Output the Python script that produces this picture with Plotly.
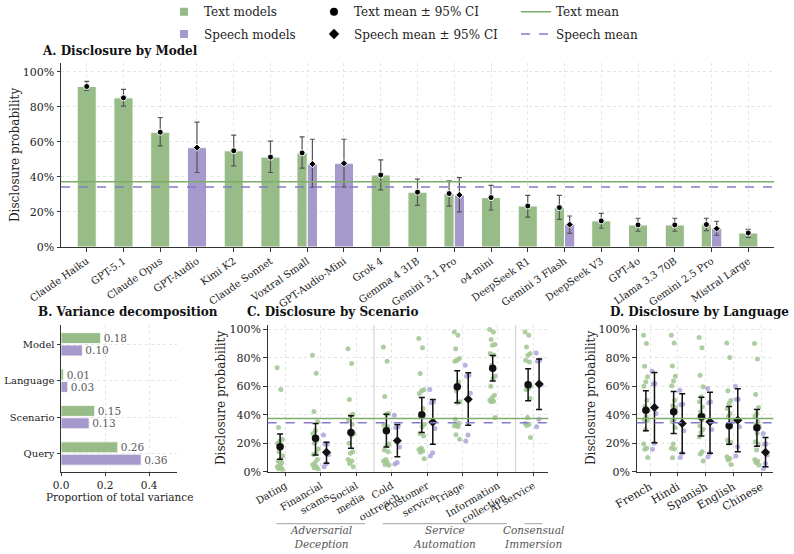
import plotly.graph_objects as go

W, H = 794, 554
FONT = "DejaVu Serif"
GREEN = "#97bc87"
PURPLE = "#a699cc"
GREEN_PT = "#a0c591"
PURPLE_PT = "#ada3da"
GREEN_LINE = "#7fac6b"
PURPLE_LINE = "#8579c9"
AXIS = "#333333"
GRID = "#e4e4e4"
TXT = "#222222"

# ---------------- Panel A data ----------------
MODELS = ["Claude Haiku", "GPT-5.1", "Claude Opus", "GPT-Audio", "Kimi K2", "Claude Sonnet",
          "Voxtral Small", "GPT-Audio-Mini", "Grok 4", "Gemma 4 31B", "Gemini 3.1 Pro",
          "o4-mini", "DeepSeek R1", "Gemini 3 Flash", "DeepSeek V3", "GPT-4o",
          "Llama 3.3 70B", "Gemini 2.5 Pro", "Mistral Large"]
TEXT_MODEL_MEAN = [0.916, 0.851, 0.655, None, 0.549, 0.513, 0.537, None, 0.411, 0.313, 0.305,
                   0.282, 0.234, 0.225, 0.149, 0.126, 0.126, 0.128, 0.080]
TEXT_MODEL_LO = [0.893, 0.804, 0.577, None, 0.463, 0.425, 0.450, None, 0.326, 0.238, 0.233,
                 0.211, 0.171, 0.158, 0.107, 0.090, 0.090, 0.093, 0.055]
TEXT_MODEL_HI = [0.945, 0.899, 0.739, None, 0.638, 0.604, 0.629, None, 0.497, 0.387, 0.377,
                 0.352, 0.295, 0.295, 0.192, 0.164, 0.164, 0.164, 0.101]
SPEECH_MODEL_MEAN = [None, None, None, 0.567, None, None, 0.474, 0.478, None, None, 0.297,
                     None, None, 0.128, None, None, None, 0.105, None]
SPEECH_MODEL_LO = [None, None, None, 0.425, None, None, 0.341, 0.343, None, None, 0.200,
                   None, None, 0.078, None, None, None, 0.067, None]
SPEECH_MODEL_HI = [None, None, None, 0.713, None, None, 0.615, 0.615, None, None, 0.396,
                   None, None, 0.177, None, None, None, 0.147, None]
TEXT_MEAN = 0.373
SPEECH_MEAN = 0.343

# ---------------- Panel B data ----------------
COMPONENTS = ["Model", "Language", "Scenario", "Query"]
VAR_TEXT = [0.180, 0.012, 0.153, 0.258]
VAR_SPEECH = [0.097, 0.031, 0.128, 0.364]

# ---------------- Panel C data ----------------
SCENARIOS = ["Dating", "Financial<br>scams", "Social<br>media", "Cold<br>outreach",
             "Customer<br>service", "Triage", "Information<br>collection", "AI service"]
SCENARIO_GROUPS = [("Adversarial<br>Deception", 0, 2), ("Service<br>Automation", 3, 6),
                   ("Consensual<br>Immersion", 7, 7)]
SCEN_TEXT_MEAN = [0.175, 0.234, 0.276, 0.287, 0.400, 0.596, 0.727, 0.610]
SCEN_TEXT_LO = [0.087, 0.117, 0.164, 0.173, 0.276, 0.484, 0.636, 0.498]
SCEN_TEXT_HI = [0.264, 0.339, 0.392, 0.404, 0.521, 0.708, 0.816, 0.722]
SCEN_SPEECH_MEAN = [None, 0.136, None, 0.217, 0.348, 0.509, None, 0.615]
SCEN_SPEECH_LO = [None, 0.059, None, 0.105, 0.192, 0.327, None, 0.437]
SCEN_SPEECH_HI = [None, 0.206, None, 0.332, 0.507, 0.694, None, 0.792]
SCEN_TEXT_PTS = [
    [0.729, 0.577, 0.310, 0.227, 0.215, 0.199, 0.182, 0.140, 0.112, 0.089, 0.075, 0.063, 0.047, 0.035, 0.030, 0.021, 0.015],
    [0.818, 0.692, 0.423, 0.350, 0.290, 0.269, 0.220, 0.199, 0.159, 0.129, 0.121, 0.086, 0.063, 0.049, 0.035, 0.028, 0.020],
    [0.864, 0.759, 0.507, 0.404, 0.397, 0.362, 0.334, 0.280, 0.269, 0.252, 0.199, 0.140, 0.129, 0.086, 0.075, 0.058, 0.035],
    [0.876, 0.776, 0.528, 0.409, 0.404, 0.327, 0.315, 0.290, 0.194, 0.182, 0.152, 0.140, 0.086, 0.075, 0.065, 0.051, 0.045],
    [0.935, 0.871, 0.689, 0.575, 0.568, 0.549, 0.444, 0.386, 0.334, 0.315, 0.269, 0.250, 0.164, 0.155, 0.145, 0.136, 0.091],
    [0.981, 0.958, 0.864, 0.794, 0.783, 0.776, 0.630, 0.568, 0.491, 0.484, 0.369, 0.340, 0.327, 0.320, 0.315, 0.260, 0.227],
    [0.998, 0.981, 0.928, 0.893, 0.888, 0.830, 0.820, 0.748, 0.671, 0.654, 0.600, 0.537, 0.521, 0.502, 0.495, 0.491, 0.381],
    [0.981, 0.958, 0.876, 0.830, 0.818, 0.783, 0.770, 0.620, 0.600, 0.584, 0.577, 0.514, 0.381, 0.339, 0.334, 0.325, 0.241],
]
SCEN_SPEECH_PTS = [
    [],
    [0.257, 0.194, 0.194, 0.120, 0.058, 0.035],
    [],
    [0.397, 0.315, 0.310, 0.173, 0.065, 0.054],
    [0.577, 0.491, 0.484, 0.304, 0.133, 0.110],
    [0.748, 0.678, 0.671, 0.550, 0.257, 0.215],
    [],
    [0.834, 0.783, 0.776, 0.610, 0.369, 0.315],
]

# ---------------- Panel D data ----------------
LANGUAGES = ["French", "Hindi", "Spanish", "English", "Chinese"]
LANG_TEXT_MEAN = [0.432, 0.421, 0.386, 0.322, 0.308]
LANG_TEXT_LO = [0.287, 0.269, 0.250, 0.192, 0.178]
LANG_TEXT_HI = [0.568, 0.563, 0.523, 0.458, 0.437]
LANG_SPEECH_MEAN = [0.451, 0.339, 0.350, 0.362, 0.136]
LANG_SPEECH_LO = [0.203, 0.129, 0.129, 0.140, 0.035]
LANG_SPEECH_HI = [0.696, 0.547, 0.558, 0.582, 0.241]
LANG_TEXT_PTS = [
    [0.958, 0.900, 0.741, 0.666, 0.631, 0.600, 0.502, 0.460, 0.430, 0.386, 0.367, 0.357, 0.297, 0.194, 0.164, 0.157, 0.100],
    [0.958, 0.904, 0.743, 0.670, 0.636, 0.603, 0.502, 0.463, 0.420, 0.362, 0.350, 0.310, 0.194, 0.164, 0.159, 0.098, 0.450],
    [0.942, 0.871, 0.678, 0.596, 0.526, 0.491, 0.455, 0.421, 0.397, 0.362, 0.320, 0.297, 0.275, 0.245, 0.140, 0.124, 0.075],
    [0.904, 0.801, 0.568, 0.500, 0.479, 0.444, 0.409, 0.390, 0.362, 0.315, 0.222, 0.206, 0.199, 0.105, 0.093, 0.082, 0.051],
    [0.900, 0.792, 0.542, 0.451, 0.409, 0.390, 0.350, 0.334, 0.320, 0.270, 0.210, 0.194, 0.152, 0.086, 0.075, 0.065, 0.047],
]
LANG_SPEECH_PTS = [
    [0.706, 0.619, 0.615, 0.409, 0.199, 0.157],
    [0.572, 0.474, 0.470, 0.287, 0.129, 0.100],
    [0.584, 0.491, 0.484, 0.297, 0.129, 0.105],
    [0.600, 0.509, 0.507, 0.315, 0.175, 0.110],
    [0.269, 0.194, 0.192, 0.117, 0.058, 0.023],
]


def xf(p):
    return p / W


def yf(p):
    return 1 - p / H


def jitter(n, spread=0.085):
    return [((k * 0.6180339887) % 1 - 0.5) * 2 * spread for k in range(n)]


fig = go.Figure()

# ---------------- Panel A ----------------
for vals, lo, hi, other, sign, col, sym, msize in [
    (TEXT_MODEL_MEAN, TEXT_MODEL_LO, TEXT_MODEL_HI, SPEECH_MODEL_MEAN, -1, GREEN, "circle", 6),
    (SPEECH_MODEL_MEAN, SPEECH_MODEL_LO, SPEECH_MODEL_HI, TEXT_MODEL_MEAN, 1, PURPLE, "diamond", 5.5),
]:
    xs, ys, ws, lo_e, hi_e = [], [], [], [], []
    for i, v in enumerate(vals):
        if v is None:
            continue
        paired = other[i] is not None
        xs.append(i + (sign * 0.14 if paired else 0))
        ws.append(0.28 if paired else 0.52)
        ys.append(v)
        lo_e.append(v - lo[i])
        hi_e.append(hi[i] - v)
    fig.add_trace(go.Bar(x=xs, y=ys, width=ws, marker=dict(color=col, line=dict(color="white", width=1)),
                         xaxis="x", yaxis="y", showlegend=False, hoverinfo="skip"))
    fig.add_trace(go.Scatter(x=xs, y=ys, mode="markers", xaxis="x", yaxis="y", showlegend=False,
                             marker=dict(symbol=sym, size=msize, color="black", line=dict(color="white", width=1)),
                             error_y=dict(type="data", symmetric=False, array=hi_e, arrayminus=lo_e,
                                          color="#555555", thickness=1.2, width=2.5)))

# ---------------- Panel B ----------------
for vals, off, col in [(VAR_TEXT, -0.17, GREEN), (VAR_SPEECH, 0.17, PURPLE)]:
    fig.add_trace(go.Bar(orientation="h", x=vals, y=[i + off for i in range(len(vals))], width=0.3,
                         marker=dict(color=col, line=dict(color="white", width=0.8)),
                         text=[f"{v:.2f}" for v in vals], textposition="outside", cliponaxis=False,
                         constraintext="none",
                         textfont=dict(family=FONT, size=10.5, color="#5a5a5a"),
                         xaxis="x2", yaxis="y2", showlegend=False, hoverinfo="skip"))


# ---------------- Panels C and D ----------------
def add_group_panel(xa, ya, t_pts, s_pts, t_m, t_lo, t_hi, s_m, s_lo, s_hi):
    for pts_list, off, col in [(t_pts, -0.15, GREEN_PT), (s_pts, 0.16, PURPLE_PT)]:
        px, py = [], []
        for i, pts in enumerate(pts_list):
            jj = jitter(len(pts))
            for k, v in enumerate(pts):
                px.append(i + off + jj[k])
                py.append(v)
        fig.add_trace(go.Scatter(x=px, y=py, mode="markers", xaxis=xa, yaxis=ya, showlegend=False,
                                 marker=dict(size=5, color=col, opacity=0.85)))
    for m, lo, hi, off, sym, size in [(t_m, t_lo, t_hi, -0.15, "circle", 7.5), (s_m, s_lo, s_hi, 0.16, "diamond", 7)]:
        xs, ys, le, he = [], [], [], []
        for i, v in enumerate(m):
            if v is None:
                continue
            xs.append(i + off)
            ys.append(v)
            le.append(v - lo[i])
            he.append(hi[i] - v)
        fig.add_trace(go.Scatter(x=xs, y=ys, mode="markers", xaxis=xa, yaxis=ya, showlegend=False,
                                 marker=dict(symbol=sym, size=size, color="#111111",
                                             line=dict(color="#111111", width=0)),
                                 error_y=dict(type="data", symmetric=False, array=he, arrayminus=le,
                                              color="#111111", thickness=1.5, width=3)))


add_group_panel("x3", "y3", SCEN_TEXT_PTS, SCEN_SPEECH_PTS, SCEN_TEXT_MEAN, SCEN_TEXT_LO, SCEN_TEXT_HI,
                SCEN_SPEECH_MEAN, SCEN_SPEECH_LO, SCEN_SPEECH_HI)
add_group_panel("x4", "y4", LANG_TEXT_PTS, LANG_SPEECH_PTS, LANG_TEXT_MEAN, LANG_TEXT_LO, LANG_TEXT_HI,
                LANG_SPEECH_MEAN, LANG_SPEECH_LO, LANG_SPEECH_HI)

# ---------------- Legend entries ----------------
legend_items = [
    ("Text models", dict(mode="markers", marker=dict(symbol="square", size=8, color=GREEN)), "legend", 164, 11.7),
    ("Speech models", dict(mode="markers", marker=dict(symbol="square", size=8, color=PURPLE)), "legend2", 164, 34),
    ("Text mean ± 95% CI", dict(mode="markers", marker=dict(symbol="circle", size=8, color="black")), "legend3", 314, 11.7),
    ("Speech mean ± 95% CI", dict(mode="markers", marker=dict(symbol="diamond", size=8, color="black")), "legend4", 314, 34),
    ("Text mean", dict(mode="lines", line=dict(color=GREEN_LINE, width=1.5)), "legend5", 516, 11.7),
    ("Speech mean", dict(mode="lines", line=dict(color=PURPLE_LINE, width=1.5, dash="dash")), "legend6", 516, 34),
]
legend_layouts = {}
for name, kw, lg, lx, ly in legend_items:
    fig.add_trace(go.Scatter(x=[None], y=[None], name=name, legend=lg, showlegend=True, xaxis="x", yaxis="y", **kw))
    legend_layouts[lg] = dict(x=xf(lx), y=yf(ly), xref="container", yref="container",
                              xanchor="left", yanchor="middle", bgcolor="rgba(0,0,0,0)",
                              font=dict(family=FONT, size=12, color=TXT), itemwidth=30, borderwidth=0)

# ---------------- Shapes ----------------
shapes = []
for ya, xa in [("y", "x"), ("y3", "x3"), ("y4", "x4")]:
    shapes.append(dict(type="line", xref=f"{xa} domain", yref=ya, x0=0, x1=1, y0=TEXT_MEAN, y1=TEXT_MEAN,
                       line=dict(color=GREEN_LINE, width=1.5), layer="above"))
    shapes.append(dict(type="line", xref=f"{xa} domain", yref=ya, x0=0, x1=1, y0=SPEECH_MEAN, y1=SPEECH_MEAN,
                       line=dict(color=PURPLE_LINE, width=1.5, dash="dash"), layer="above"))

annotations = []
for gi, (label, s, e) in enumerate(SCENARIO_GROUPS):
    if gi < len(SCENARIO_GROUPS) - 1:
        shapes.append(dict(type="line", xref="x3", yref="y3 domain", x0=e + 0.5, x1=e + 0.5, y0=0, y1=1,
                           line=dict(color="#cccccc", width=1), layer="below"))
    shapes.append(dict(type="line", xref="x3", yref="paper", x0=s - 0.25, x1=e + 0.25, y0=yf(523.7), y1=yf(523.7),
                       line=dict(color="#888888", width=0.8)))
    annotations.append(dict(text=label, xref="x3", yref="paper", x=(s + e) / 2, y=yf(537), showarrow=False,
                            xanchor="center", yanchor="middle", align="center",
                            font=dict(family=FONT, size=10.5, color="#555555", style="italic")))

# titles
for txt, x, y in [("A. Disclosure by Model", 40, 51), ("B. Variance decomposition", 36, 312),
                  ("C. Disclosure by Scenario", 245, 312), ("D. Disclosure by Language", 607.5, 312)]:
    annotations.append(dict(text=f"<b>{txt}</b>", xref="paper", yref="paper", x=xf(x), y=yf(y),
                            xanchor="left", yanchor="middle", showarrow=False,
                            font=dict(family=FONT, size=12, color="#111111")))
# axis titles
for x, yc in [(15, 155), (221, 398), (591, 398)]:
    annotations.append(dict(text="Disclosure probability", xref="paper", yref="paper", x=xf(x), y=yf(yc),
                            textangle=-90, showarrow=False, xanchor="center", yanchor="middle",
                            font=dict(family=FONT, size=12, color=TXT)))
annotations.append(dict(text="Proportion of total variance", xref="paper", yref="paper", x=xf(119.5), y=yf(497),
                        showarrow=False, xanchor="center", yanchor="middle",
                        font=dict(family=FONT, size=10.5, color=TXT)))

# ---------------- Axes ----------------
base = dict(showline=True, linecolor=AXIS, linewidth=1, ticks="outside", ticklen=3.5, tickcolor=AXIS,
            showgrid=True, gridcolor=GRID, griddash="dot", gridwidth=1, zeroline=False, mirror=False,
            automargin=False)
pct_ticks = [0, 0.2, 0.4, 0.6, 0.8, 1.0]
ydom_top = [yf(247), yf(63)]
ydom_bot = [yf(471.7), yf(325)]

fig.update_layout(
    width=W, height=H, margin=dict(l=0, r=0, t=0, b=0, autoexpand=False), paper_bgcolor="white", plot_bgcolor="white",
    font=dict(family=FONT, color=TXT), barmode="overlay", showlegend=True,
    xaxis=dict(base, domain=[xf(61), xf(774)], range=[-0.7, 18.7], tickvals=list(range(len(MODELS))),
               ticktext=MODELS, tickangle=-35, tickfont=dict(family=FONT, size=10, color=TXT), anchor="y"),
    yaxis=dict(base, domain=ydom_top, range=[0, 1.05], tickvals=pct_ticks, tickformat=".0%",
               tickfont=dict(family=FONT, size=11, color=TXT), anchor="x"),
    xaxis2=dict(base, domain=[xf(61), xf(177)], range=[0, 0.527], tickvals=[0, 0.2, 0.4], tickformat=".1f",
                tickfont=dict(family=FONT, size=10.5, color=TXT), anchor="y2"),
    yaxis2=dict(base, domain=ydom_bot, range=[3.5, -0.53], tickvals=list(range(len(COMPONENTS))),
                ticktext=COMPONENTS, tickfont=dict(family=FONT, size=10, color=TXT), anchor="x2"),
    xaxis3=dict(base, domain=[xf(267.7), xf(548.3)], range=[-0.5, 7.42], tickvals=list(range(len(SCENARIOS))),
                ticktext=SCENARIOS, tickangle=-30, tickfont=dict(family=FONT, size=10, color=TXT), anchor="y3"),
    yaxis3=dict(base, domain=ydom_bot, range=[0, 1.03], tickvals=pct_ticks, tickformat=".0%",
                tickfont=dict(family=FONT, size=11, color=TXT), anchor="x3"),
    xaxis4=dict(base, domain=[xf(636.7), xf(773.3)], range=[-0.48, 4.44], tickvals=list(range(len(LANGUAGES))),
                ticktext=LANGUAGES, tickangle=-30, tickfont=dict(family=FONT, size=11, color=TXT), anchor="y4"),
    yaxis4=dict(base, domain=ydom_bot, range=[0, 1.03], tickvals=pct_ticks, tickformat=".0%",
                tickfont=dict(family=FONT, size=11, color=TXT), anchor="x4"),
    shapes=shapes, annotations=annotations,
    **legend_layouts,
)

fig.write_html("out.html")
